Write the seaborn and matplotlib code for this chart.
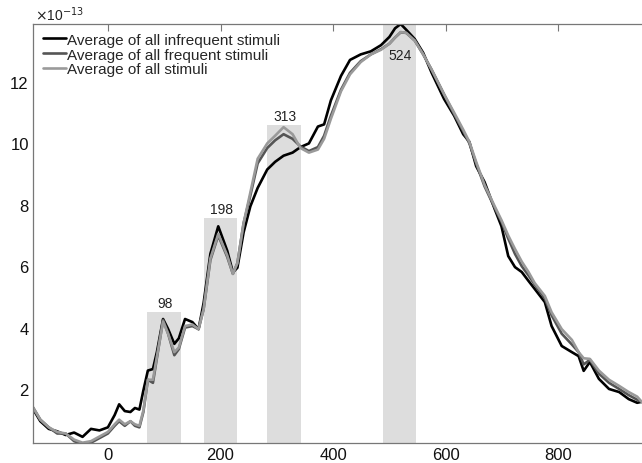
import seaborn as sns
import pandas as pd
import matplotlib.pyplot as plt

# time axis (ms) and the three averaged curves (units of 1e-13)
time_ms = [-133, -120, -105, -90, -75, -60, -45, -30, -15, 0, 12, 20, 30, 40, 48, 56,
           63, 71, 80, 87, 98, 107, 118, 126, 137, 150, 161, 170, 182, 196, 212, 222,
           230, 241, 253, 266, 283, 297, 312, 328, 342, 357, 373, 384, 396, 414, 430,
           449, 467, 485, 500, 510, 520, 530, 545, 560, 575, 597, 615, 631, 642, 654,
           669, 687, 699, 711, 723, 735, 747, 758, 776, 788, 806, 824, 836, 845, 856,
           872, 890, 908, 925, 940, 952]

infrequent = [1.35, 0.95, 0.7, 0.62, 0.5, 0.58, 0.44, 0.7, 0.65, 0.75, 1.15, 1.5, 1.28,
              1.25, 1.38, 1.33, 1.95, 2.6, 2.65, 3.2, 4.28, 3.95, 3.47, 3.65, 4.28, 4.18,
              3.95, 4.8, 6.4, 7.3, 6.5, 5.8, 5.95, 7.1, 7.95, 8.55, 9.15, 9.4, 9.6, 9.7,
              9.88, 10.0, 10.55, 10.62, 11.4, 12.2, 12.72, 12.9, 13.0, 13.2, 13.47, 13.75,
              13.89, 13.7, 13.4, 12.95, 12.3, 11.45, 10.9, 10.3, 10.05, 9.26, 8.74, 7.86,
              7.3, 6.33, 5.97, 5.81, 5.52, 5.26, 4.83, 4.05, 3.4, 3.2, 3.07, 2.59, 2.88,
              2.33, 2.0, 1.9, 1.67, 1.55, 1.6]

frequent = [1.4, 1.0, 0.75, 0.55, 0.55, 0.3, 0.2, 0.25, 0.4, 0.55, 0.8, 0.95, 0.8,
            0.95, 0.8, 0.75, 1.25, 2.3, 2.2, 3.0, 4.25, 3.8, 3.1, 3.3, 4.0, 4.05,
            3.95, 4.6, 6.2, 7.0, 6.3, 5.75, 6.1, 7.4, 8.3, 9.35, 9.85, 10.1, 10.3, 10.15,
            9.9, 9.75, 9.88, 10.25, 10.9, 11.75, 12.3, 12.68, 12.9, 13.07, 13.25, 13.45,
            13.62, 13.6, 13.35, 12.9, 12.4, 11.6, 10.95, 10.4, 10.0, 9.35, 8.6, 7.9,
            7.45, 6.9, 6.4, 6.0, 5.7, 5.4, 4.95, 4.4, 3.8, 3.45, 3.2, 2.8, 2.95,
            2.5, 2.2, 2.0, 1.8, 1.65, 1.55]

all_stimuli = [1.4, 1.0, 0.75, 0.6, 0.55, 0.35, 0.25, 0.3, 0.45, 0.6, 0.85, 1.0, 0.85,
               0.95, 0.85, 0.8, 1.3, 2.3, 2.3, 3.05, 4.2, 3.8, 3.2, 3.35, 4.05, 4.1,
               3.95, 4.6, 6.25, 7.05, 6.35, 5.75, 6.1, 7.4, 8.4, 9.5, 10.0, 10.25, 10.53,
               10.3, 9.85, 9.7, 9.8, 10.15, 10.8, 11.7, 12.25, 12.65, 12.9, 13.05, 13.25,
               13.45, 13.63, 13.6, 13.35, 12.9, 12.4, 11.6, 11.0, 10.45, 10.05, 9.4, 8.65,
               7.95, 7.5, 7.0, 6.56, 6.15, 5.81, 5.45, 5.03, 4.5, 3.95, 3.6, 3.2, 3.0,
               2.98, 2.6, 2.3, 2.1, 1.9, 1.75, 1.5]

series_names = ["Average of all infrequent stimuli",
                "Average of all frequent stimuli",
                "Average of all stimuli"]

# shaded windows around the peak latencies
peak_labels = ["98", "198", "313", "524"]
window_center = [100, 200, 313, 518]
window_top = [4.52, 7.57, 10.61, 14.5]

y_ticks = [2, 4, 6, 8, 10, 12]
x_ticks = [0, 200, 400, 600, 800]


def main():
    sns.set_style("white")
    plt.rcParams['font.family'] = ['Liberation Sans', 'DejaVu Sans']

    frames = []
    for name, vals in zip(series_names, [infrequent, frequent, all_stimuli]):
        frames.append(pd.DataFrame({"time": time_ms, "value": vals, "series": name}))
    df = pd.concat(frames, ignore_index=True)

    bars = pd.DataFrame({"center": window_center, "top": window_top})

    fig = plt.figure(figsize=(6.42, 4.64), dpi=100)
    # right edge of the axes sits just past the figure edge (cut off like the original)
    ax = fig.add_axes([0.0514, 0.0431, 0.956, 0.903])

    sns.barplot(data=bars, x="center", y="top", native_scale=True, width=0.6,
                color="#dddddd", saturation=1, linewidth=0, errorbar=None, ax=ax)

    sns.lineplot(data=df, x="time", y="value", hue="series", hue_order=series_names,
                 palette=["#000000", "#555555", "#9a9a9a"], linewidth=1.9,
                 estimator=None, ax=ax)
    for ln in ax.lines:
        ln.set_solid_joinstyle("round")

    # peak labels
    for lab, c, t in zip(peak_labels, window_center, window_top):
        if t > 14:
            ax.text(c + 1, 12.88, lab, ha="center", va="center", fontsize=10, color="#222222")
        else:
            ax.text(c + 1, t + 0.06, lab, ha="center", va="bottom", fontsize=10, color="#222222")

    ax.set_xlim(-133, 957)
    ax.set_ylim(0.24, 13.89)
    ax.set_xticks(x_ticks)
    ax.set_yticks(y_ticks)
    ax.set_xlabel("")
    ax.set_ylabel("")
    ax.tick_params(direction="in", length=5, width=0.8, color="#777777",
                   labelsize=12, labelcolor="#111111", top=True, right=False,
                   labeltop=False, labelright=False, pad=3)
    for s in ax.spines.values():
        s.set_color("#777777")
        s.set_linewidth(0.9)

    ax.text(0.003, 1.003, r"$\times$10$^{-13}$", transform=ax.transAxes,
            ha="left", va="bottom", fontsize=10, color="#222222")

    handles, labels = ax.get_legend_handles_labels()
    ax.legend(handles, labels, loc="upper left", bbox_to_anchor=(0.016, 0.979),
              frameon=False, fontsize=11, handlelength=1.5, handletextpad=0.1,
              labelspacing=0.05, borderpad=0, borderaxespad=0)

    fig.savefig("out.png", dpi=100)


if __name__ == "__main__":
    main()
